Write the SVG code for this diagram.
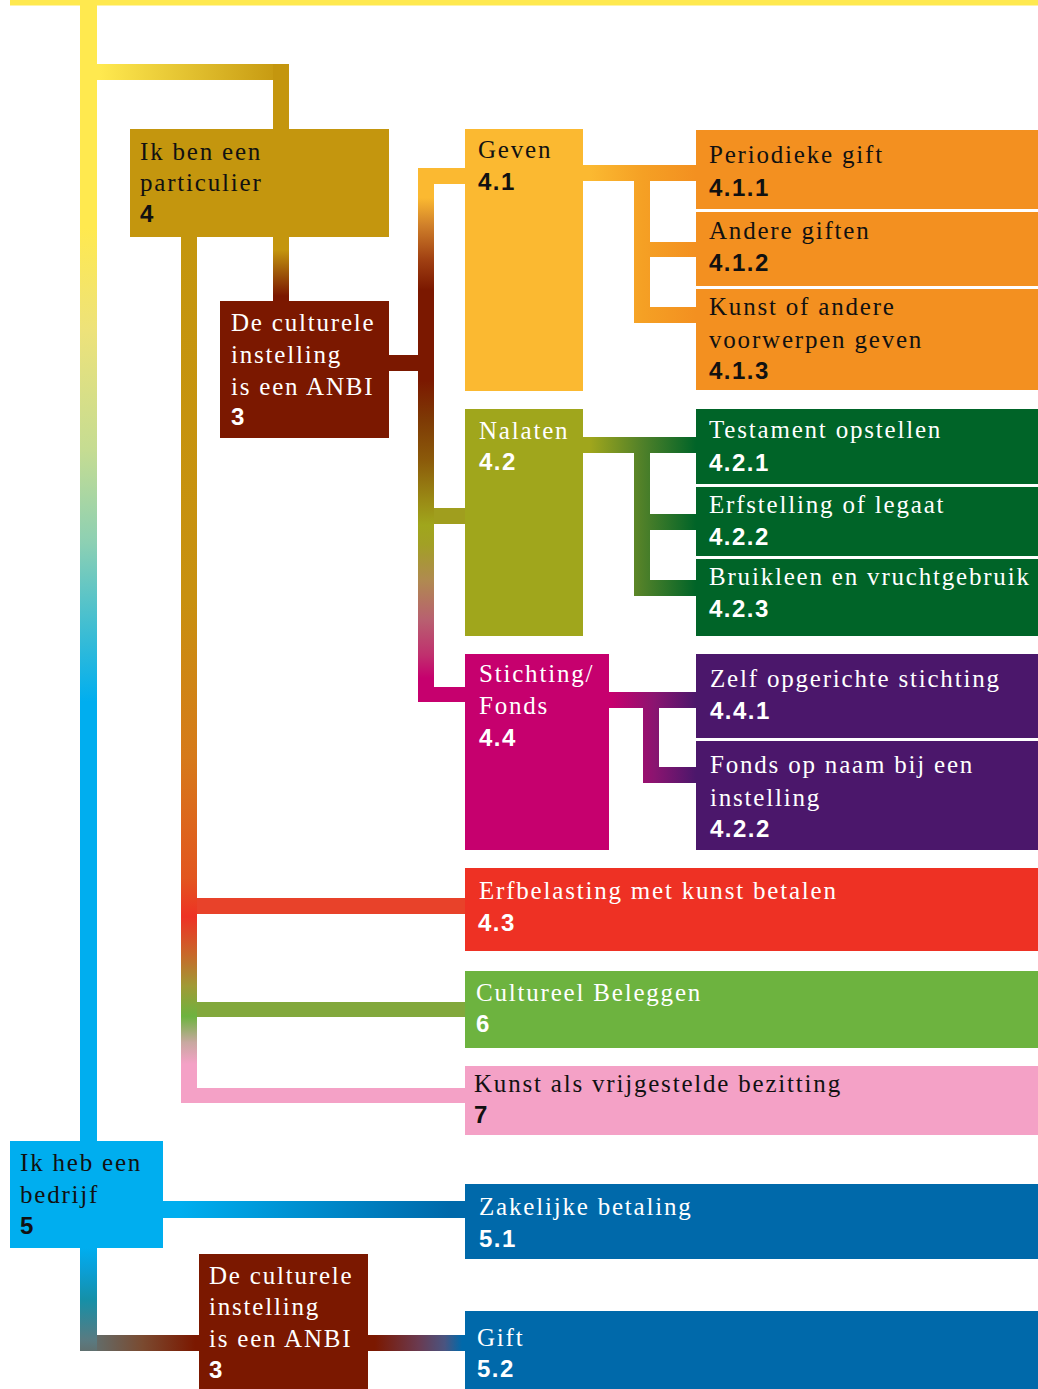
<svg xmlns="http://www.w3.org/2000/svg" width="1038" height="1389" viewBox="0 0 1038 1389">
<style>
.t{font-family:"Liberation Serif","Times New Roman",serif;font-size:25px;letter-spacing:1.8px}
.n{font-family:"Liberation Sans",Arial,sans-serif;font-size:24px;font-weight:bold;letter-spacing:1.5px}
.d{fill:#111111}
.w{fill:#ffffff}
</style>
<defs>
<linearGradient id="gMain" gradientUnits="userSpaceOnUse" x1="0" y1="0" x2="0" y2="1141">
<stop offset="0" stop-color="#FFE94F"/>
<stop offset="0.2" stop-color="#FFE94F"/>
<stop offset="0.29" stop-color="#EDE27A"/>
<stop offset="0.395" stop-color="#C5DC92"/>
<stop offset="0.475" stop-color="#8DD0B3"/>
<stop offset="0.545" stop-color="#45BFD0"/>
<stop offset="0.615" stop-color="#00AEEF"/>
<stop offset="1" stop-color="#00AEEF"/>
</linearGradient>
<linearGradient id="gTop" gradientUnits="userSpaceOnUse" x1="100" y1="0" x2="285" y2="0">
<stop offset="0" stop-color="#FFE94F"/>
<stop offset="1" stop-color="#C4960E"/>
</linearGradient>
<linearGradient id="gGold" gradientUnits="userSpaceOnUse" x1="0" y1="237" x2="0" y2="1103">
<stop offset="0" stop-color="#C4960E"/>
<stop offset="0.42" stop-color="#C8900F"/>
<stop offset="0.6" stop-color="#D67A1A"/>
<stop offset="0.74" stop-color="#E2561F"/>
<stop offset="0.785" stop-color="#EE3124"/>
<stop offset="0.83" stop-color="#C66A2A"/>
<stop offset="0.865" stop-color="#A09A35"/>
<stop offset="0.9" stop-color="#6DB33F"/>
<stop offset="0.93" stop-color="#C8A8A0"/>
<stop offset="0.955" stop-color="#F4A1C6"/>
<stop offset="1" stop-color="#F4A1C6"/>
</linearGradient>
<linearGradient id="gAnbi" gradientUnits="userSpaceOnUse" x1="0" y1="237" x2="0" y2="301">
<stop offset="0" stop-color="#C4960E"/>
<stop offset="0.2" stop-color="#C4960E"/>
<stop offset="0.6" stop-color="#9A5008"/>
<stop offset="0.92" stop-color="#7B1800"/>
</linearGradient>
<linearGradient id="gMid" gradientUnits="userSpaceOnUse" x1="0" y1="168" x2="0" y2="702">
<stop offset="0" stop-color="#FBB931"/>
<stop offset="0.056" stop-color="#FBB931"/>
<stop offset="0.107" stop-color="#D0802A"/>
<stop offset="0.172" stop-color="#A04012"/>
<stop offset="0.228" stop-color="#7B1800"/>
<stop offset="0.397" stop-color="#7B1800"/>
<stop offset="0.472" stop-color="#7E3A05"/>
<stop offset="0.547" stop-color="#8B5A0A"/>
<stop offset="0.622" stop-color="#9A8A15"/>
<stop offset="0.669" stop-color="#A0A61C"/>
<stop offset="0.705" stop-color="#A2A025"/>
<stop offset="0.772" stop-color="#B08A50"/>
<stop offset="0.846" stop-color="#B86070"/>
<stop offset="0.912" stop-color="#C0306E"/>
<stop offset="0.955" stop-color="#C6006E"/>
<stop offset="1" stop-color="#C6006E"/>
</linearGradient>
<linearGradient id="gGeven" gradientUnits="userSpaceOnUse" x1="590" y1="0" x2="696" y2="0">
<stop offset="0" stop-color="#FBB931"/>
<stop offset="0.5" stop-color="#F5A024"/>
<stop offset="1" stop-color="#F39020"/>
</linearGradient>
<linearGradient id="gNal" gradientUnits="userSpaceOnUse" x1="590" y1="0" x2="696" y2="0">
<stop offset="0" stop-color="#A0A61C"/>
<stop offset="0.5" stop-color="#4F8029"/>
<stop offset="1" stop-color="#006428"/>
</linearGradient>
<linearGradient id="gSti" gradientUnits="userSpaceOnUse" x1="612" y1="0" x2="696" y2="0">
<stop offset="0" stop-color="#C6006E"/>
<stop offset="0.5" stop-color="#8B1470"/>
<stop offset="1" stop-color="#4B176B"/>
</linearGradient>
<linearGradient id="gBiz" gradientUnits="userSpaceOnUse" x1="180" y1="0" x2="450" y2="0">
<stop offset="0" stop-color="#00AEEF"/>
<stop offset="1" stop-color="#0069AA"/>
</linearGradient>
<linearGradient id="gBizV" gradientUnits="userSpaceOnUse" x1="0" y1="1248" x2="0" y2="1351">
<stop offset="0" stop-color="#00AEEF"/>
<stop offset="0.2" stop-color="#0AA0D8"/>
<stop offset="0.5" stop-color="#1590A8"/>
<stop offset="0.9" stop-color="#5A7A80"/>
<stop offset="1" stop-color="#607070"/>
</linearGradient>
<linearGradient id="gBizH" gradientUnits="userSpaceOnUse" x1="90" y1="0" x2="195" y2="0">
<stop offset="0" stop-color="#607070"/>
<stop offset="0.5" stop-color="#7A4A30"/>
<stop offset="1" stop-color="#7B1800"/>
</linearGradient>
<linearGradient id="gGift" gradientUnits="userSpaceOnUse" x1="375" y1="0" x2="462" y2="0">
<stop offset="0" stop-color="#7B1800"/>
<stop offset="0.5" stop-color="#6A3A50"/>
<stop offset="0.8" stop-color="#4A5480"/>
<stop offset="1" stop-color="#0069AA"/>
</linearGradient>
</defs>

<g id="connectors">
<rect x="10" y="0" width="1028" height="5.5" fill="#FFE94F"/>
<rect x="80" y="0" width="17" height="1141" fill="url(#gMain)"/>
<rect x="97" y="64" width="192" height="16" fill="url(#gTop)"/>
<rect x="273" y="64" width="16" height="65" fill="#C4960E"/>
<rect x="181" y="237" width="16" height="866" fill="url(#gGold)"/>
<rect x="273" y="237" width="16" height="64" fill="url(#gAnbi)"/>
<rect x="197" y="898" width="268" height="16" fill="#E8422A"/>
<rect x="197" y="1002" width="268" height="15" fill="#82A83C"/>
<rect x="197" y="1088" width="268" height="15" fill="#F4A1C6"/>
<rect x="389" y="355" width="45" height="16" fill="#7B1800"/>
<rect x="418" y="168" width="16" height="534" fill="url(#gMid)"/>
<rect x="434" y="168" width="31" height="16" fill="#FBB931"/>
<rect x="434" y="508" width="31" height="16" fill="#A09E1E"/>
<rect x="434" y="687" width="31" height="15" fill="#C6006E"/>
<g fill="url(#gGeven)">
<rect x="583" y="165" width="113" height="16"/>
<rect x="634" y="165" width="16" height="158"/>
<rect x="650" y="242" width="46" height="15"/>
<rect x="650" y="307" width="46" height="16"/>
</g>
<g fill="url(#gNal)">
<rect x="583" y="437" width="113" height="16"/>
<rect x="634" y="437" width="16" height="159"/>
<rect x="650" y="514" width="46" height="16"/>
<rect x="650" y="580" width="46" height="16"/>
</g>
<g fill="url(#gSti)">
<rect x="609" y="692" width="87" height="16"/>
<rect x="643" y="692" width="16" height="91"/>
<rect x="659" y="767" width="37" height="16"/>
</g>
<rect x="163" y="1201" width="302" height="17" fill="url(#gBiz)"/>
<rect x="80" y="1248" width="17" height="103" fill="url(#gBizV)"/>
<rect x="97" y="1335" width="102" height="16" fill="url(#gBizH)"/>
<rect x="368" y="1335" width="97" height="16" fill="url(#gGift)"/>
</g>

<g id="particulier">
<rect x="130" y="129" width="259" height="108" fill="#C4960E"/>
<text class="t d" x="140" y="160">Ik ben een</text>
<text class="t d" x="140" y="191">particulier</text>
<text class="n d" x="140" y="222">4</text>
</g>
<g id="anbi1">
<rect x="220" y="301" width="169" height="137" fill="#7B1800"/>
<text class="t w" x="231" y="331">De culturele</text>
<text class="t w" x="231" y="363">instelling</text>
<text class="t w" x="231" y="395">is een ANBI</text>
<text class="n w" x="231" y="425">3</text>
</g>
<g id="geven">
<rect x="465" y="129" width="118" height="262" fill="#FBB931"/>
<text class="t d" x="478" y="158">Geven</text>
<text class="n d" x="478" y="190">4.1</text>
</g>
<g id="periodieke">
<rect x="696" y="130" width="342" height="79" fill="#F39020"/>
<text class="t d" x="709" y="163">Periodieke gift</text>
<text class="n d" x="709" y="196">4.1.1</text>
</g>
<g id="andere">
<rect x="696" y="212" width="342" height="74" fill="#F39020"/>
<text class="t d" x="709" y="239">Andere giften</text>
<text class="n d" x="709" y="271">4.1.2</text>
</g>
<g id="kunst">
<rect x="696" y="289" width="342" height="101" fill="#F39020"/>
<text class="t d" x="709" y="315">Kunst of andere</text>
<text class="t d" x="709" y="348">voorwerpen geven</text>
<text class="n d" x="709" y="379">4.1.3</text>
</g>
<g id="nalaten">
<rect x="465" y="409" width="118" height="227" fill="#A0A61C"/>
<text class="t w" x="479" y="439">Nalaten</text>
<text class="n w" x="479" y="470">4.2</text>
</g>
<g id="testament">
<rect x="696" y="409" width="342" height="75" fill="#006428"/>
<text class="t w" x="709" y="438">Testament opstellen</text>
<text class="n w" x="709" y="471">4.2.1</text>
</g>
<g id="erfstelling">
<rect x="696" y="487" width="342" height="69" fill="#006428"/>
<text class="t w" x="709" y="513">Erfstelling of legaat</text>
<text class="n w" x="709" y="545">4.2.2</text>
</g>
<g id="bruikleen">
<rect x="696" y="559" width="342" height="77" fill="#006428"/>
<text class="t w" x="709" y="585">Bruikleen en vruchtgebruik</text>
<text class="n w" x="709" y="617">4.2.3</text>
</g>
<g id="stichting">
<rect x="465" y="654" width="144" height="196" fill="#C6006E"/>
<text class="t w" x="479" y="682">Stichting/</text>
<text class="t w" x="479" y="714">Fonds</text>
<text class="n w" x="479" y="746">4.4</text>
</g>
<g id="zelf">
<rect x="696" y="654" width="342" height="84" fill="#4B176B"/>
<text class="t w" x="710" y="687">Zelf opgerichte stichting</text>
<text class="n w" x="710" y="719">4.4.1</text>
</g>
<g id="fonds">
<rect x="696" y="741" width="342" height="109" fill="#4B176B"/>
<text class="t w" x="710" y="773">Fonds op naam bij een</text>
<text class="t w" x="710" y="806">instelling</text>
<text class="n w" x="710" y="837">4.2.2</text>
</g>
<g id="erfbelasting">
<rect x="465" y="868" width="573" height="83" fill="#EE3124"/>
<text class="t w" x="479" y="899">Erfbelasting met kunst betalen</text>
<text class="n w" x="478" y="931">4.3</text>
</g>
<g id="cultureel">
<rect x="465" y="971" width="573" height="77" fill="#6DB33F"/>
<text class="t w" x="476" y="1001">Cultureel Beleggen</text>
<text class="n w" x="476" y="1032">6</text>
</g>
<g id="vrijgesteld">
<rect x="465" y="1066" width="573" height="69" fill="#F4A1C6"/>
<text class="t d" x="474" y="1092">Kunst als vrijgestelde bezitting</text>
<text class="n d" x="474" y="1123">7</text>
</g>
<g id="bedrijf">
<rect x="10" y="1141" width="153" height="107" fill="#00AEEF"/>
<text class="t d" x="20" y="1171">Ik heb een</text>
<text class="t d" x="20" y="1203">bedrijf</text>
<text class="n d" x="20" y="1234">5</text>
</g>
<g id="zakelijk">
<rect x="465" y="1184" width="573" height="75" fill="#0069AA"/>
<text class="t w" x="479" y="1215">Zakelijke betaling</text>
<text class="n w" x="479" y="1247">5.1</text>
</g>
<g id="anbi2">
<rect x="199" y="1254" width="169" height="135" fill="#7B1800"/>
<text class="t w" x="209" y="1284">De culturele</text>
<text class="t w" x="209" y="1315">instelling</text>
<text class="t w" x="209" y="1347">is een ANBI</text>
<text class="n w" x="209" y="1378">3</text>
</g>
<g id="gift">
<rect x="465" y="1311" width="573" height="78" fill="#0069AA"/>
<text class="t w" x="477" y="1346">Gift</text>
<text class="n w" x="477" y="1377">5.2</text>
</g>
</svg>
